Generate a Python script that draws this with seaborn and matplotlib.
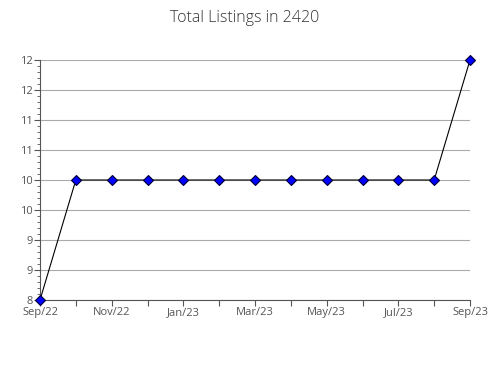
import matplotlib
matplotlib.use("Agg")
import matplotlib.pyplot as plt
import seaborn as sns
import pandas as pd
from matplotlib.ticker import MultipleLocator, FuncFormatter

months = ["Sep/22", "Oct/22", "Nov/22", "Dec/22", "Jan/23", "Feb/23", "Mar/23",
          "Apr/23", "May/23", "Jun/23", "Jul/23", "Aug/23", "Sep/23"]
listings = [8, 10, 10, 10, 10, 10, 10, 10, 10, 10, 10, 10, 12]
title = "Total Listings in 2420"

sns.set_style("white")
plt.rcParams['font.family'] = ['Open Sans', 'DejaVu Sans']

df = pd.DataFrame({"idx": range(len(months)), "month": months, "val": listings})

fig = plt.figure(figsize=(4.9, 3.8), dpi=100)
ax = fig.add_axes([40/490, 80/380, 430/490, 240/380])

sns.lineplot(data=df, x="idx", y="val", ax=ax, color="black", linewidth=0.8,
             marker="D", markersize=5.5, markerfacecolor="#0000ff",
             markeredgecolor="#000033", markeredgewidth=0.8, zorder=3, clip_on=False)

ax.set_xlim(0, len(months) - 1)
ax.set_ylim(8, 12)
ax.yaxis.set_major_locator(MultipleLocator(0.5))
ax.yaxis.set_minor_locator(MultipleLocator(0.1))
ax.yaxis.set_major_formatter(FuncFormatter(lambda v, p: f"{int(v + 0.5)}"))
ax.set_xticks(range(len(months)))
ax.set_xticklabels([m if i % 2 == 0 else "" for i, m in enumerate(months)])
ax.grid(axis="y", color="#aaaaaa", linewidth=0.8)
ax.set_axisbelow(True)
for s in ["top", "right"]:
    ax.spines[s].set_visible(False)
for s in ["left", "bottom"]:
    ax.spines[s].set_color("#555555")
    ax.spines[s].set_linewidth(0.8)
ax.tick_params(axis="both", which="major", length=4, width=0.8, color="#555555",
               labelsize=8, labelcolor="#555555", direction="out", bottom=True, left=True, pad=1)
ax.tick_params(axis="y", which="minor", length=2, width=0.6, color="#555555", left=True)
ax.set_xlabel("")
ax.set_ylabel("")
fig.suptitle(title, y=0.975, fontsize=11.5, color="#333333", fontweight="light")

fig.savefig("out.png", dpi=100)
